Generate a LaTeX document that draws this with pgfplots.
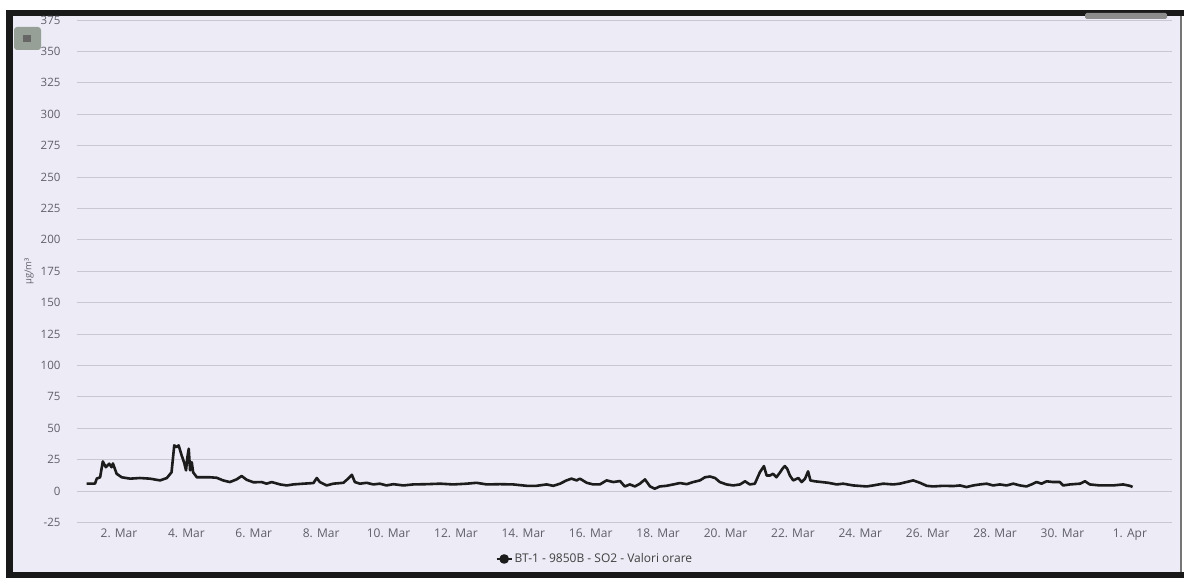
\documentclass[border=0pt]{standalone}
\usepackage{fontspec}
\setmainfont{Open Sans}
\usepackage{pgfplots}
\pgfplotsset{compat=1.18}
\definecolor{bgl}{RGB}{236,235,246}
\definecolor{gridc}{RGB}{200,200,210}
\definecolor{tickc}{RGB}{95,95,105}
\definecolor{linec}{RGB}{28,28,28}
\definecolor{framec}{RGB}{25,25,25}
\definecolor{btn}{RGB}{150,160,150}
\begin{document}
\begin{tikzpicture}
\useasboundingbox (0pt,0pt) rectangle (1184pt,578pt);
\fill[white] (0pt,0pt) rectangle (1184pt,578pt);
\fill[bgl] (10pt,3pt) rectangle (1181pt,566pt);
\fill[framec] (6pt,0pt) rectangle (13pt,568pt);
\fill[framec] (6pt,562pt) rectangle (1184pt,568pt);
\fill[framec] (6pt,0pt) rectangle (1184pt,6pt);
\draw[framec!60,line width=1.5pt] (1181pt,6pt) -- (1181pt,562pt);
% menu buttons
\fill[btn,rounded corners=3pt] (14pt,528pt) rectangle (41pt,551pt);
\fill[black!60] (23pt,536pt) rectangle (31pt,543pt);
\fill[black!45,rounded corners=1.5pt] (1085pt,559pt) rectangle (1167pt,565pt);
\begin{axis}[
  at={(77pt,55.5pt)}, anchor=south west,
  scale only axis, width=1095pt, height=502.5pt,
  xmin=0.754, xmax=33.25, ymin=-25, ymax=375,
  axis line style={draw=none},
  major tick length=0pt,
  ymajorgrids, grid style={gridc, line width=0.9pt},
  ytick={-25,0,25,50,75,100,125,150,175,200,225,250,275,300,325,350,375},
  yticklabels={-25,0,25,50,75,100,125,150,175,200,225,250,275,300,325,350,375},
  xtick={2,4,6,8,10,12,14,16,18,20,22,24,26,28,30,32},
  xticklabels={2. Mar,4. Mar,6. Mar,8. Mar,10. Mar,12. Mar,14. Mar,16. Mar,18. Mar,20. Mar,22. Mar,24. Mar,26. Mar,28. Mar,30. Mar,1. Apr},
  yticklabel style={font=\fontsize{11.5}{12}\selectfont, text=tickc, xshift=-13pt},
  xticklabel style={font=\fontsize{12}{12}\selectfont, text=tickc, yshift=-3pt},
  ylabel={µg/m³},
  every axis y label/.style={at={(axis description cs:-0.0438,0.5)}, rotate=90, anchor=center, font=\fontsize{9.5}{10}\selectfont, text=tickc},
  legend style={at={(axis description cs:0.473,-0.0726)}, anchor=center, draw=none, fill=none, font=\fontsize{12}{12}\selectfont, text=black!75},
  legend cell align=left,
  legend image code/.code={\draw[linec,line width=2pt] (0pt,0pt) -- (15pt,0pt); \fill[linec] (7.5pt,0pt) circle (3.5pt);},
]
\addplot[linec, line width=2.6pt, line join=round, mark=none] coordinates {
(1.04,5.9)(1.29,6.0)(1.34,9.9)(1.44,11)(1.52,23.6)(1.61,19)(1.71,21.8)(1.78,19)(1.82,22)(1.93,13.8)(2.08,11)(2.33,9.9)(2.62,10.4)(2.92,9.9)(3.22,8.5)(3.42,10.4)(3.56,15)(3.64,36.4)(3.71,35)(3.77,36.4)(3.86,28.4)(3.93,23)(3.99,16.5)(4.03,27)(4.07,33.7)(4.11,16.5)(4.16,23)(4.20,15)(4.31,11)(4.55,11)(4.70,11)(4.90,10.6)(5.09,8.5)(5.29,7.2)(5.49,9.3)(5.64,12)(5.79,9)(5.99,7)(6.23,7.2)(6.38,5.9)(6.53,7.2)(6.78,5.3)(6.98,4.5)(7.17,5.3)(7.47,5.9)(7.77,6.4)(7.87,10.4)(7.96,7.2)(8.16,4.5)(8.36,5.9)(8.66,6.6)(8.80,9.9)(8.91,13)(9.00,7.2)(9.15,5.9)(9.35,6.6)(9.55,5.3)(9.74,5.9)(9.94,4.5)(10.14,5.5)(10.44,4.5)(10.73,5.3)(11.13,5.5)(11.53,5.9)(11.92,5.3)(12.32,5.9)(12.61,6.6)(12.91,5.3)(13.31,5.5)(13.70,5.3)(14.10,4.2)(14.39,4.2)(14.69,5.3)(14.89,4.2)(15.09,5.9)(15.28,8.5)(15.43,9.9)(15.58,8.5)(15.68,9.9)(15.88,6.6)(16.07,5.3)(16.27,5.3)(16.47,8.5)(16.67,7.2)(16.87,8)(17.01,3.7)(17.16,5.3)(17.31,3.7)(17.46,5.9)(17.61,9.3)(17.76,3.7)(17.90,1.9)(18.05,3.7)(18.25,4.2)(18.45,5.3)(18.65,6.4)(18.85,5.5)(19.04,7.2)(19.24,8.5)(19.39,11)(19.54,11.6)(19.69,10.4)(19.83,7.2)(20.03,5.3)(20.23,4.5)(20.43,5.3)(20.58,7.8)(20.72,5.3)(20.87,5.9)(21.02,15)(21.14,19.9)(21.22,12.4)(21.32,12.4)(21.41,13.8)(21.51,11)(21.61,14.6)(21.69,17.8)(21.76,19.9)(21.83,17.8)(21.91,12.4)(22.01,8.5)(22.16,10.4)(22.26,7.2)(22.36,9.9)(22.45,15.7)(22.52,8.5)(22.65,7.8)(22.85,7.2)(23.05,6.6)(23.30,5.3)(23.49,5.9)(23.79,4.5)(24.19,3.7)(24.38,4.5)(24.68,5.9)(24.98,5.3)(25.17,5.9)(25.37,7.2)(25.57,8.5)(25.77,6.6)(25.97,4.2)(26.16,3.7)(26.46,4.2)(26.76,4.0)(26.96,4.5)(27.15,3.2)(27.35,4.5)(27.55,5.3)(27.75,5.9)(27.94,4.5)(28.14,5.3)(28.34,4.5)(28.54,5.9)(28.74,4.5)(28.93,3.7)(29.08,5.3)(29.23,7.2)(29.38,5.9)(29.53,7.8)(29.72,7.2)(29.92,7.2)(30.02,4.5)(30.22,5.3)(30.52,5.9)(30.67,7.8)(30.81,5.3)(31.11,4.5)(31.50,4.5)(31.80,5.3)(32.00,4.2)(32.08,3.3)
};
\addlegendentry{BT-1 - 9850B - SO2 - Valori orare}
\end{axis}
\end{tikzpicture}
\end{document}
